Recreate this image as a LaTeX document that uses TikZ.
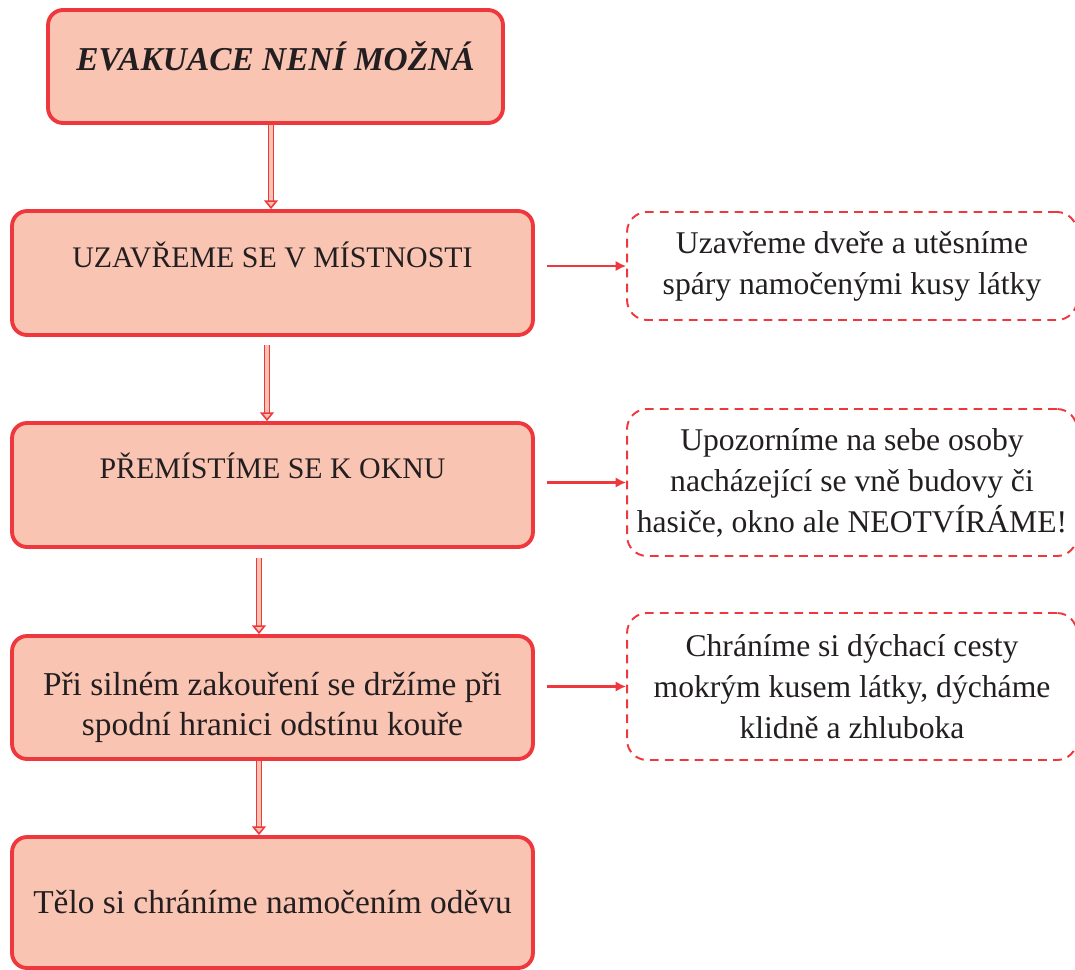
\documentclass[tikz,border=0pt]{standalone}
\usepackage{fontspec}
\setmainfont{Liberation Serif}
\usetikzlibrary{arrows.meta}
\definecolor{boxfill}{HTML}{FAC4B3}
\definecolor{boxline}{HTML}{EE383E}
\definecolor{ink}{HTML}{231F20}

\begin{document}
\begin{tikzpicture}[x=0.02cm, y=-0.02cm,
    every node/.style={text=ink, font=\fontsize{17}{23.3}\selectfont},
    stepbox/.style={draw=boxline, fill=boxfill, line width=2.2pt, rounded corners=0.3cm,
        minimum width=10.42cm, minimum height=2.48cm, align=center, inner sep=0pt},
    notebox/.style={draw=boxline, line width=1.1pt, dash pattern=on 5pt off 3.5pt,
        rounded corners=0.4cm, minimum width=9cm, align=center, inner sep=0pt,
        font=\fontsize{18}{23.3}\selectfont},
    sidearrow/.style={draw=boxline, line width=1.3pt, -{Latex[length=6pt, width=6pt]}},
    downarrow/.style={draw=boxline, line width=0.9pt, double=boxfill, double distance=2pt,
        -{Triangle[open, fill=boxfill, length=5pt, width=8pt]}}]

    \useasboundingbox (0,0) rectangle (1075,970);

    % main steps
    \node[stepbox, minimum width=9.1cm, minimum height=2.26cm, text depth=0.4cm,
        font=\fontsize{19}{23}\selectfont\bfseries\itshape] (start) at (275.5,66.5) {EVAKUACE NENÍ MOŽNÁ};
    \node[stepbox, text depth=0.75cm] (close) at (272.5,273) {UZAVŘEME SE V MÍSTNOSTI};
    \node[stepbox, text depth=0.78cm] (window) at (272.5,485) {PŘEMÍSTÍME SE K OKNU};
    \node[stepbox, minimum height=2.46cm, text height=1.65cm, font=\fontsize{19}{22.8}\selectfont] (smoke) at (272.5,697.5)
        {Při silném zakouření se držíme při\\spodní hranici odstínu kouře};
    \node[stepbox, minimum height=2.62cm, font=\fontsize{19}{23}\selectfont] (body) at (272.5,902.5)
        {Tělo si chráníme namočením oděvu};

    % notes
    \node[notebox, minimum height=2.16cm] (note1) at (852,266)
        {Uzavřeme dveře a utěsníme\\spáry namočenými kusy látky};
    \node[notebox, minimum height=2.94cm] (note2) at (852,482.5)
        {Upozorníme na sebe osoby\\nacházející se vně budovy či\\hasiče, okno ale NEOTVÍRÁME!};
    \node[notebox, minimum height=2.94cm] (note3) at (852,686.5)
        {Chráníme si dýchací cesty\\mokrým kusem látky, dýcháme\\klidně a zhluboka};

    \draw[downarrow] ([xshift=-0.09cm]start.south) -- ([xshift=-0.09cm]start.south |- close.north);
    \draw[downarrow] ([xshift=-0.11cm, yshift=-0.16cm]close.south) -- ([xshift=-0.11cm]close.south |- window.north);
    \draw[downarrow] ([xshift=-0.27cm, yshift=-0.18cm]window.south) -- ([xshift=-0.27cm]window.south |- smoke.north);
    \draw[downarrow] ([xshift=-0.27cm]smoke.south) -- ([xshift=-0.27cm]smoke.south |- body.north);

    \draw[sidearrow] ([xshift=0.24cm]close.east |- note1.west) -- (note1.west);
    \draw[sidearrow] ([xshift=0.24cm]window.east |- note2.west) -- (note2.west);
    \draw[sidearrow] ([xshift=0.24cm]smoke.east |- note3.west) -- (note3.west);
\end{tikzpicture}
\end{document}
